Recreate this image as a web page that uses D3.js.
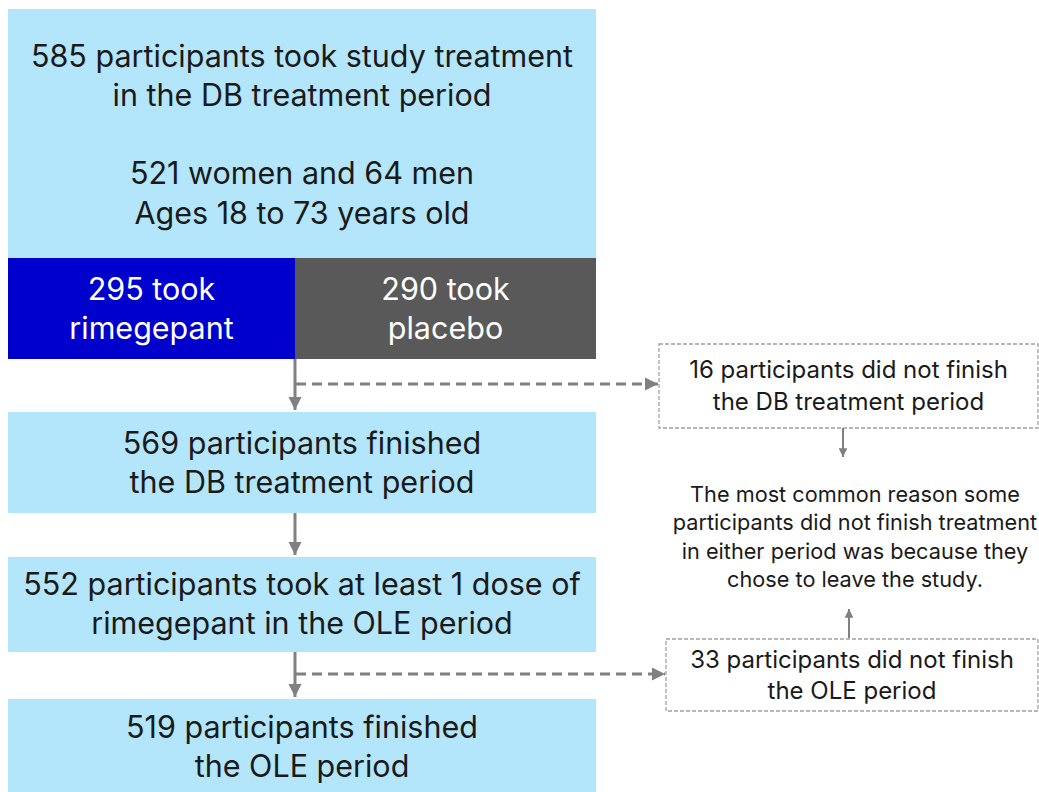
<!DOCTYPE html>
<html>
<head>
<meta charset="utf-8">
<script src="https://cdn.jsdelivr.net/npm/d3@7"></script>
<style>
  body { margin: 0; background: #fff; }
  svg text { font-family: Inter, "Noto Sans", sans-serif; }
</style>
</head>
<body>
<div id="chart"></div>
<script>
// Flow chart content
const mainSteps = [
  ["585 participants took study treatment", "in the DB treatment period", "", "521 women and 64 men", "Ages 18 to 73 years old"],
  ["569 participants finished", "the DB treatment period"],
  ["552 participants took at least 1 dose of", "rimegepant in the OLE period"],
  ["519 participants finished", "the OLE period"]
];
const groups = [
  ["295 took", "rimegepant"],
  ["290 took", "placebo"]
];
const groupColors = ["#0000cc", "#595959"];
const dropouts = [
  ["16 participants did not finish", "the DB treatment period"],
  ["33 participants did not finish", "the OLE period"]
];
const reasonNote = [
  "The most common reason some",
  "participants did not finish treatment",
  "in either period was because they",
  "chose to leave the study."
];

const width = 1039, height = 792;
const svg = d3.select("#chart").append("svg")
  .attr("width", width).attr("height", height);

const defs = svg.append("defs");
defs.append("marker")
  .attr("id", "arrow")
  .attr("viewBox", "0 0 10 10")
  .attr("refX", 10).attr("refY", 5)
  .attr("markerWidth", 4.4).attr("markerHeight", 4.4)
  .attr("markerUnits", "strokeWidth")
  .attr("orient", "auto")
  .append("path").attr("d", "M0,0L10,5L0,10Z").attr("fill", "#808080");

// layout of the left column
const left = 8, right = 596, split = 295;
const mainSize = 30.5;
const boxes = [
  { y0: 9, y1: 258, lines: mainSteps[0], ly: [55, 94, 0, 172, 212] },
  { y0: 412, y1: 513, lines: mainSteps[1], ly: [442, 481] },
  { y0: 557, y1: 652, lines: mainSteps[2], ly: [583, 622] },
  { y0: 699, y1: 792, lines: mainSteps[3], ly: [726, 765] }
];

const box = svg.selectAll(".step").data(boxes).enter().append("g").attr("class", "step");
box.append("rect")
  .attr("x", left).attr("y", d => d.y0)
  .attr("width", right - left).attr("height", d => d.y1 - d.y0)
  .attr("fill", "#b3e5fb");
box.each(function (d) {
  d3.select(this).selectAll("text")
    .data(d.lines.map((t, i) => ({ t, y: d.ly[i] })).filter(e => e.t))
    .enter().append("text")
    .attr("x", (left + right) / 2).attr("y", e => e.y)
    .attr("text-anchor", "middle").attr("dominant-baseline", "central")
    .attr("font-size", mainSize).attr("fill", "#1a1a1a")
    .text(e => e.t);
});

// treatment groups
const gx = [[left, split], [split, right]];
const grp = svg.selectAll(".grp").data(groups).enter().append("g").attr("class", "grp");
grp.append("rect")
  .attr("x", (d, i) => gx[i][0]).attr("y", 258)
  .attr("width", (d, i) => gx[i][1] - gx[i][0]).attr("height", 101)
  .attr("fill", (d, i) => groupColors[i]);
grp.each(function (d, i) {
  d3.select(this).selectAll("text").data(d).enter().append("text")
    .attr("x", (gx[i][0] + gx[i][1]) / 2).attr("y", (t, j) => 288 + j * 39)
    .attr("text-anchor", "middle").attr("dominant-baseline", "central")
    .attr("font-size", mainSize).attr("fill", "#fff")
    .text(t => t);
});

// solid arrows down the column
const solid = [[359, 410], [513, 555], [652, 697]];
svg.selectAll(".down").data(solid).enter().append("line")
  .attr("x1", split).attr("x2", split)
  .attr("y1", d => d[0]).attr("y2", d => d[1])
  .attr("stroke", "#808080").attr("stroke-width", 3)
  .attr("marker-end", "url(#arrow)");

// dropout boxes
const dBoxes = [
  { x0: 659, x1: 1038, y0: 344, y1: 428, ly: [369, 401], ay: 384 },
  { x0: 666, x1: 1038, y0: 639, y1: 711, ly: [659, 690], ay: 674 }
];
dBoxes.forEach((b, i) => {
  svg.append("line")
    .attr("x1", split + 1).attr("x2", b.x0 - 1)
    .attr("y1", b.ay).attr("y2", b.ay)
    .attr("stroke", "#808080").attr("stroke-width", 3)
    .attr("stroke-dasharray", "10,6")
    .attr("marker-end", "url(#arrow)");
  svg.append("rect")
    .attr("x", b.x0).attr("y", b.y0)
    .attr("width", b.x1 - b.x0).attr("height", b.y1 - b.y0)
    .attr("fill", "none").attr("stroke", "#a0a0a0").attr("stroke-width", 1.3)
    .attr("stroke-dasharray", "4,2");
  svg.selectAll(".drop" + i).data(dropouts[i]).enter().append("text")
    .attr("x", (b.x0 + b.x1) / 2).attr("y", (t, j) => b.ly[j])
    .attr("text-anchor", "middle").attr("dominant-baseline", "central")
    .attr("font-size", 24).attr("fill", "#1a1a1a")
    .text(t => t);
});

// arrows into the note
[[843, 428, 457], [849, 638, 609]].forEach(a => {
  svg.append("line")
    .attr("x1", a[0]).attr("x2", a[0]).attr("y1", a[1]).attr("y2", a[2])
    .attr("stroke", "#808080").attr("stroke-width", 2)
    .attr("marker-end", "url(#arrow)");
});

svg.selectAll(".note").data(reasonNote).enter().append("text")
  .attr("x", 855).attr("y", (t, i) => 494 + i * 28.3)
  .attr("text-anchor", "middle").attr("dominant-baseline", "central")
  .attr("font-size", 21.7).attr("fill", "#1a1a1a")
  .text(t => t);
</script>
</body>
</html>
